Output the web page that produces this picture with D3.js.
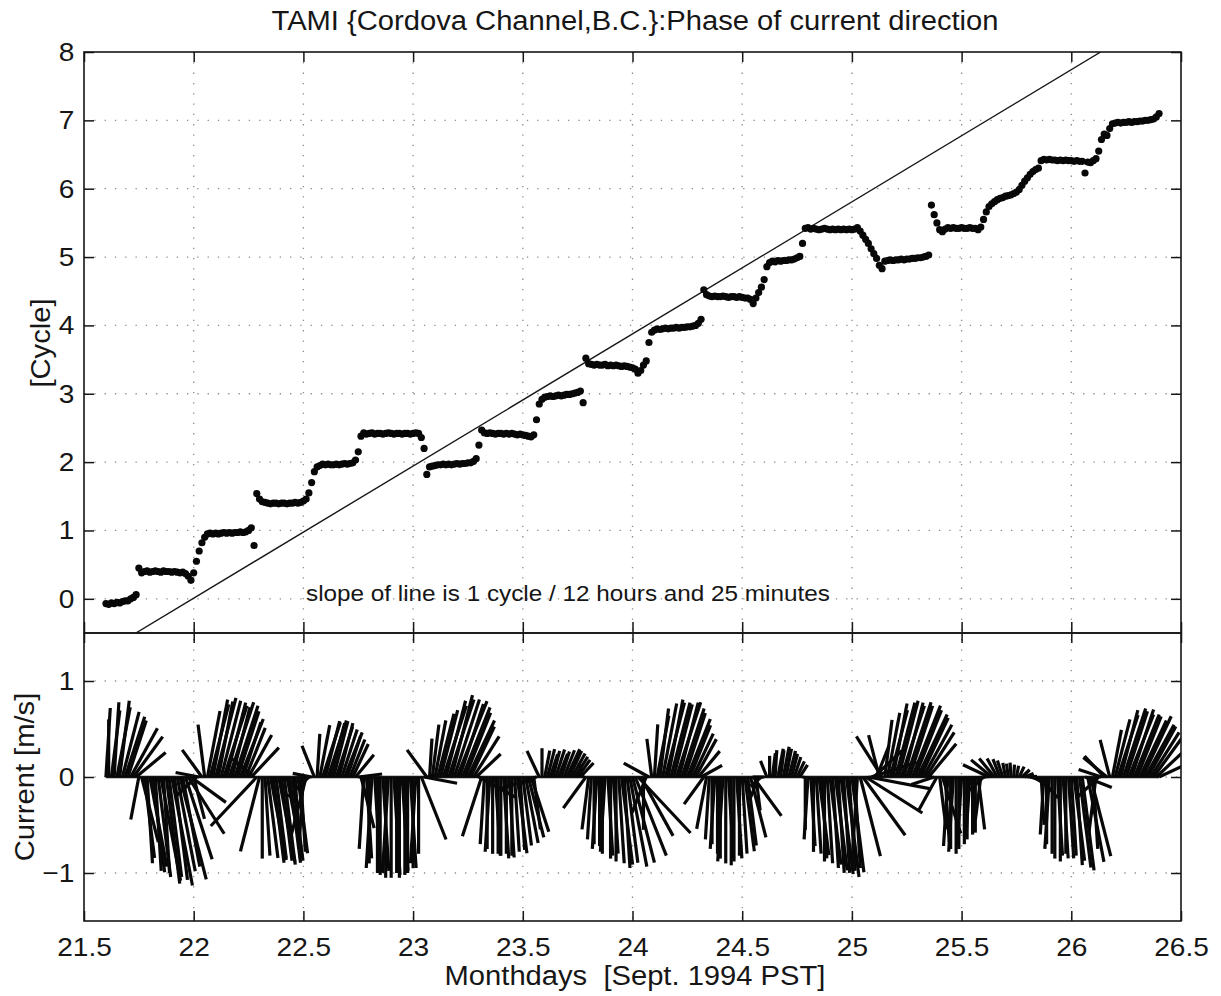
<!DOCTYPE html>
<html>
<head>
<meta charset="utf-8">
<script src="https://cdn.jsdelivr.net/npm/d3@7"></script>
<style>
  body { margin: 0; background: #fff; }
  text { font-family: "Liberation Sans", Arial, Helvetica, sans-serif; fill: #161616; }
</style>
</head>
<body>
<svg id="chart" width="1221" height="996"></svg>
<script>
// TAMI mooring, Cordova Channel B.C., September 1994 (PST)
// Regular 18-minute ensembles starting at monthday 21.6
const sampleStart = 21.6;
const sampleStepDays = 18 / 1440;

// Unwrapped phase of current direction [cycles], one row per 0.1 day
const phase = [
  -0.07,-0.08,-0.06,-0.07,-0.05,-0.06,-0.04,-0.03,
  -0.03, 0.00, 0.02, 0.06, 0.45, 0.38, 0.40, 0.41,
   0.39, 0.40, 0.41, 0.40, 0.39, 0.41, 0.40, 0.40,
   0.39, 0.40, 0.39, 0.38, 0.39, 0.37, 0.33, 0.27,
   0.38, 0.55, 0.70, 0.82, 0.90, 0.95, 0.96, 0.95,
   0.96, 0.95, 0.96, 0.97, 0.96, 0.97, 0.96, 0.97,
   0.97, 0.98, 0.97, 0.98, 1.00, 1.04, 0.78, 1.54,
   1.46, 1.42, 1.41, 1.40, 1.39, 1.40, 1.40, 1.39,
   1.40, 1.40, 1.39, 1.40, 1.40, 1.41, 1.40, 1.41,
   1.43, 1.46, 1.55, 1.70, 1.86, 1.93, 1.95, 1.97,
   1.96, 1.97, 1.96, 1.96, 1.97, 1.96, 1.97, 1.98,
   1.97, 1.98, 1.99, 2.03, 2.15, 2.38, 2.43, 2.41,
   2.42, 2.43, 2.41, 2.42, 2.42, 2.41, 2.42, 2.43,
   2.42, 2.41, 2.42, 2.42, 2.41, 2.42, 2.42, 2.41,
   2.42, 2.43, 2.42, 2.36, 2.20, 1.82, 1.93, 1.94,
   1.95, 1.96, 1.96, 1.97, 1.96, 1.97, 1.96, 1.97,
   1.98, 1.97, 1.98, 1.98, 1.99, 1.99, 2.01, 2.05,
   2.25, 2.47, 2.43, 2.42, 2.43, 2.42, 2.41, 2.42,
   2.42, 2.41, 2.42, 2.41, 2.42, 2.41, 2.40, 2.41,
   2.40, 2.39, 2.38, 2.37, 2.40, 2.62, 2.85, 2.92,
   2.95, 2.96, 2.97, 2.96, 2.97, 2.98, 2.97, 2.98,
   2.99, 2.99, 3.00, 3.01, 3.02, 3.04, 2.87, 3.52,
   3.44, 3.43, 3.42, 3.43, 3.42, 3.42, 3.43, 3.41,
   3.42, 3.41, 3.42, 3.41, 3.40, 3.41, 3.40, 3.39,
   3.38, 3.36, 3.30, 3.34, 3.42, 3.48, 3.75, 3.90,
   3.93, 3.95, 3.94, 3.95, 3.96, 3.95, 3.96, 3.96,
   3.97, 3.96, 3.97, 3.97, 3.98, 3.98, 3.99, 4.00,
   4.03, 4.09, 4.52, 4.45, 4.43, 4.42, 4.43, 4.42,
   4.42, 4.43, 4.42, 4.41, 4.42, 4.42, 4.41, 4.42,
   4.41, 4.40, 4.40, 4.38, 4.32, 4.40, 4.48, 4.56,
   4.67, 4.86, 4.92, 4.94, 4.93, 4.95, 4.94, 4.95,
   4.95, 4.96, 4.96, 4.97, 4.99, 5.01, 5.20, 5.42,
   5.43, 5.41, 5.42, 5.41, 5.40, 5.41, 5.42, 5.41,
   5.40, 5.41, 5.40, 5.41, 5.40, 5.41, 5.40, 5.41,
   5.40, 5.41, 5.43, 5.38, 5.32, 5.26, 5.20, 5.12,
   5.05, 4.98, 4.88, 4.83, 4.94, 4.95, 4.96, 4.95,
   4.96, 4.96, 4.97, 4.96, 4.97, 4.97, 4.98, 4.98,
   4.99, 4.99, 5.00, 5.01, 5.03, 5.76, 5.62, 5.50,
   5.40, 5.37, 5.41, 5.43, 5.42, 5.43, 5.42, 5.42,
   5.43, 5.42, 5.42, 5.43, 5.42, 5.42, 5.40, 5.44,
   5.55, 5.66, 5.74, 5.78, 5.81, 5.84, 5.86, 5.87,
   5.89, 5.90, 5.91, 5.93, 5.95, 5.99, 6.05, 6.11,
   6.16, 6.21, 6.25, 6.28, 6.30, 6.41, 6.43, 6.42,
   6.43, 6.42, 6.42, 6.41, 6.42, 6.41, 6.42, 6.41,
   6.41, 6.40, 6.41, 6.40, 6.40, 6.23, 6.39, 6.38,
   6.41, 6.44, 6.55, 6.72, 6.80, 6.78, 6.88, 6.95,
   6.96, 6.97, 6.96, 6.97, 6.97, 6.98, 6.97, 6.98,
   6.98, 6.99, 6.99, 7.00, 7.00, 7.01, 7.02, 7.05,
   7.10
];

// Current speed [m/s] for the same ensembles
const speed = [
  0.72,0.60,0.70,0.78,0.74,0.80,0.70,0.66,
  0.62,0.58,0.52,0.40,0.45,0.70,0.85,0.90,
  0.95,1.00,0.98,1.05,1.10,1.00,1.12,1.05,
  1.15,1.08,1.00,1.10,0.95,0.90,0.70,0.45,
  0.45,0.30,0.25,0.35,0.55,0.70,0.78,0.82,
  0.85,0.80,0.82,0.78,0.80,0.82,0.75,0.78,
  0.72,0.65,0.60,0.55,0.50,0.42,0.30,0.70,
  0.80,0.85,0.82,0.85,0.88,0.90,0.85,0.90,
  0.88,0.92,0.85,0.90,0.88,0.85,0.80,0.78,
  0.75,0.70,0.30,0.20,0.35,0.45,0.55,0.60,
  0.60,0.62,0.58,0.60,0.55,0.58,0.52,0.50,
  0.45,0.42,0.38,0.30,0.25,0.55,0.75,0.85,
  0.90,0.95,0.98,1.00,1.02,0.98,1.05,1.00,
  1.05,1.02,1.00,1.05,0.98,1.02,1.00,0.95,
  0.95,0.90,0.80,0.70,0.35,0.35,0.40,0.55,
  0.60,0.68,0.72,0.78,0.82,0.85,0.88,0.85,
  0.85,0.80,0.78,0.72,0.65,0.58,0.50,0.35,
  0.45,0.65,0.70,0.75,0.78,0.80,0.82,0.80,
  0.82,0.85,0.80,0.84,0.82,0.78,0.80,0.76,
  0.72,0.70,0.65,0.60,0.55,0.45,0.30,0.30,
  0.28,0.30,0.25,0.28,0.30,0.26,0.28,0.30,
  0.32,0.30,0.28,0.25,0.22,0.20,0.15,0.40,
  0.55,0.65,0.70,0.75,0.72,0.80,0.78,0.82,
  0.85,0.80,0.88,0.90,0.92,0.95,0.90,0.95,
  0.92,0.88,0.80,0.70,0.55,0.40,0.30,0.40,
  0.55,0.65,0.72,0.78,0.80,0.82,0.80,0.78,
  0.82,0.80,0.75,0.70,0.65,0.58,0.50,0.45,
  0.35,0.25,0.35,0.55,0.65,0.70,0.75,0.80,
  0.85,0.88,0.90,0.85,0.92,0.88,0.85,0.82,
  0.80,0.78,0.72,0.65,0.50,0.35,0.25,0.15,
  0.12,0.18,0.22,0.25,0.28,0.30,0.28,0.32,
  0.30,0.28,0.25,0.22,0.18,0.15,0.20,0.55,
  0.65,0.72,0.78,0.80,0.82,0.85,0.88,0.90,
  0.92,0.95,0.98,1.00,1.02,1.00,1.05,0.98,
  1.00,0.95,0.90,0.85,0.75,0.70,0.65,0.50,
  0.40,0.35,0.45,0.50,0.60,0.68,0.72,0.78,
  0.80,0.82,0.78,0.80,0.82,0.78,0.80,0.75,
  0.72,0.68,0.62,0.55,0.45,0.15,0.25,0.40,
  0.55,0.62,0.68,0.72,0.75,0.78,0.80,0.75,
  0.72,0.70,0.65,0.62,0.60,0.58,0.55,0.45,
  0.25,0.25,0.30,0.28,0.25,0.22,0.20,0.18,
  0.15,0.14,0.15,0.13,0.12,0.12,0.11,0.10,
  0.10,0.12,0.15,0.20,0.30,0.50,0.60,0.70,
  0.75,0.80,0.85,0.82,0.88,0.85,0.80,0.85,
  0.82,0.88,0.92,0.95,0.98,0.30,0.90,0.85,
  0.75,0.60,0.30,0.25,0.30,0.32,0.40,0.50,
  0.62,0.68,0.72,0.75,0.72,0.70,0.74,0.70,
  0.68,0.65,0.70,0.62,0.60,0.55,0.52,0.45,
  0.40
];

// Phase value (mod 1) that points straight up in the stick panel
const northPhase = 0.92;

// Reference line: 1 cycle per M2 period of 12 h 25 min
const m2PeriodHours = 12 + 25 / 60;
const lineZeroDay = 21.995;

const xTicks = [21.5, 22, 22.5, 23, 23.5, 24, 24.5, 25, 25.5, 26, 26.5];
const phaseTicks = [0, 1, 2, 3, 4, 5, 6, 7, 8];
const currentTicks = [-1, 0, 1];

const titleText = "TAMI {Cordova Channel,B.C.}:Phase of current direction";
const phaseLabel = "[Cycle]";
const currentLabel = "Current [m/s]";
const xLabel = "Monthdays\u00a0\u00a0[Sept. 1994 PST]";
const noteText = "slope of line is 1 cycle / 12 hours and 25 minutes";

// ---------------------------------------------------------------
const svg = d3.select("#chart");
const L = 84, R = 1181, T = 52, M = 633, B = 921;
const stretch = "scale(1.08,1)";
const ink = "#161616";

const times = phase.map((_, i) => sampleStart + i * sampleStepDays);
const samples = times.map((t, i) => ({ t, p: phase[i], s: speed[i] }));

const x = d3.scaleLinear().domain([21.5, 26.5]).range([L, R]);
const yPhase = d3.scaleLinear().domain([-0.5, 8]).range([M, T]);
const yCur = d3.scaleLinear().domain([-1.5, 1.5]).range([B, M]);

const defs = svg.append("defs");
defs.append("clipPath").attr("id", "clipTop")
  .append("rect").attr("x", L).attr("y", T).attr("width", R - L).attr("height", M - T);
defs.append("clipPath").attr("id", "clipBot")
  .append("rect").attr("x", L).attr("y", M).attr("width", R - L).attr("height", B - M);

// dotted grid
const grid = svg.append("g").attr("stroke", "#8c8c8c").attr("stroke-width", 1.3)
  .attr("stroke-dasharray", "1.3,9").attr("fill", "none");
xTicks.slice(1, -1).forEach(v => {
  grid.append("line").attr("x1", x(v)).attr("x2", x(v)).attr("y1", T).attr("y2", B);
});
phaseTicks.slice(0, -1).forEach(v => {
  grid.append("line").attr("x1", L).attr("x2", R).attr("y1", yPhase(v)).attr("y2", yPhase(v));
});
currentTicks.forEach(v => {
  grid.append("line").attr("x1", L).attr("x2", R).attr("y1", yCur(v)).attr("y2", yCur(v));
});

// upper panel: phase samples and reference line
const upperPanel = svg.append("g").attr("clip-path", "url(#clipTop)");
const periodDays = m2PeriodHours / 24;
const lineEnds = [-0.5, 8].map(c => ({ t: lineZeroDay + c * periodDays, c }));
upperPanel.append("path")
  .attr("d", d3.line().x(d => x(d.t)).y(d => yPhase(d.c))(lineEnds))
  .attr("stroke", ink).attr("stroke-width", 1.4).attr("fill", "none");
upperPanel.append("g").selectAll("circle").data(samples).join("circle")
  .attr("cx", d => x(d.t)).attr("cy", d => yPhase(d.p)).attr("r", 3.6)
  .attr("fill", "#080808");

// lower panel: current sticks
const lowerPanel = svg.append("g").attr("clip-path", "url(#clipBot)");
const unit = yCur(0) - yCur(1);
lowerPanel.append("line")
  .attr("x1", x(times[0])).attr("x2", x(times[times.length - 1]))
  .attr("y1", yCur(0)).attr("y2", yCur(0))
  .attr("stroke", ink).attr("stroke-width", 2.4);
lowerPanel.append("g").selectAll("line").data(samples).join("line")
  .attr("stroke", "#080808").attr("stroke-width", 3.2).attr("stroke-linecap", "butt")
  .attr("x1", d => x(d.t)).attr("y1", yCur(0))
  .attr("x2", d => x(d.t) + d.s * Math.sin(2 * Math.PI * (d.p - northPhase)) * unit)
  .attr("y2", d => yCur(d.s * Math.cos(2 * Math.PI * (d.p - northPhase))));

// axes with inward ticks
function styleAxis(g, size) {
  g.select(".domain").remove();
  g.attr("font-family", "Liberation Sans, Arial, Helvetica, sans-serif")
    .attr("font-size", size);
  g.selectAll(".tick line").attr("stroke", ink).attr("stroke-width", 1.5);
  g.selectAll(".tick text").attr("fill", ink).attr("transform", stretch);
}
const tickLen = -10;
svg.append("g").attr("transform", `translate(0,${T})`)
  .call(d3.axisTop(x).tickValues(xTicks).tickSize(tickLen).tickFormat(""))
  .call(g => styleAxis(g, 26));
svg.append("g").attr("transform", `translate(0,${M})`)
  .call(d3.axisBottom(x).tickValues(xTicks).tickSize(tickLen - 1).tickFormat(""))
  .call(g => styleAxis(g, 26));
svg.append("g").attr("transform", `translate(0,${M})`)
  .call(d3.axisTop(x).tickValues(xTicks).tickSize(tickLen).tickFormat(""))
  .call(g => styleAxis(g, 26));
svg.append("g").attr("transform", `translate(0,${B})`)
  .call(d3.axisBottom(x).tickValues(xTicks).tickSize(tickLen).tickPadding(17).tickFormat(d3.format("")))
  .call(g => styleAxis(g, 26));

svg.append("g").attr("transform", `translate(${L},0)`)
  .call(d3.axisLeft(yPhase).tickValues(phaseTicks).tickSize(tickLen).tickPadding(9).tickFormat(d3.format("d")))
  .call(g => styleAxis(g, 26));
svg.append("g").attr("transform", `translate(${R},0)`)
  .call(d3.axisRight(yPhase).tickValues(phaseTicks).tickSize(tickLen).tickFormat(""))
  .call(g => styleAxis(g, 26));
svg.append("g").attr("transform", `translate(${L},0)`)
  .call(d3.axisLeft(yCur).tickValues(currentTicks).tickSize(tickLen).tickPadding(9).tickFormat(d3.format("d")))
  .call(g => styleAxis(g, 26));
svg.append("g").attr("transform", `translate(${R},0)`)
  .call(d3.axisRight(yCur).tickValues(currentTicks).tickSize(tickLen).tickFormat(""))
  .call(g => styleAxis(g, 26));

// panel frames
[[T, M], [M, B]].forEach(([y0, y1]) => {
  svg.append("rect").attr("x", L).attr("y", y0).attr("width", R - L).attr("height", y1 - y0)
    .attr("fill", "none").attr("stroke", ink).attr("stroke-width", 1.6);
});

// text
function addText(px, py, str, size, anchor, rotate) {
  const g = svg.append("g").attr("transform", `translate(${px},${py})` + (rotate ? ` rotate(${rotate})` : ""));
  g.append("text").attr("transform", stretch).attr("text-anchor", anchor)
    .attr("font-size", size).text(str);
}
addText(635, 30, titleText, 27, "middle");
addText(635, 985, xLabel, 27, "middle");
addText(50, 343, phaseLabel, 27, "middle", -90);
addText(34, 777, currentLabel, 27, "middle", -90);
addText(306, 601, noteText, 22.5, "start");
</script>
</body>
</html>
